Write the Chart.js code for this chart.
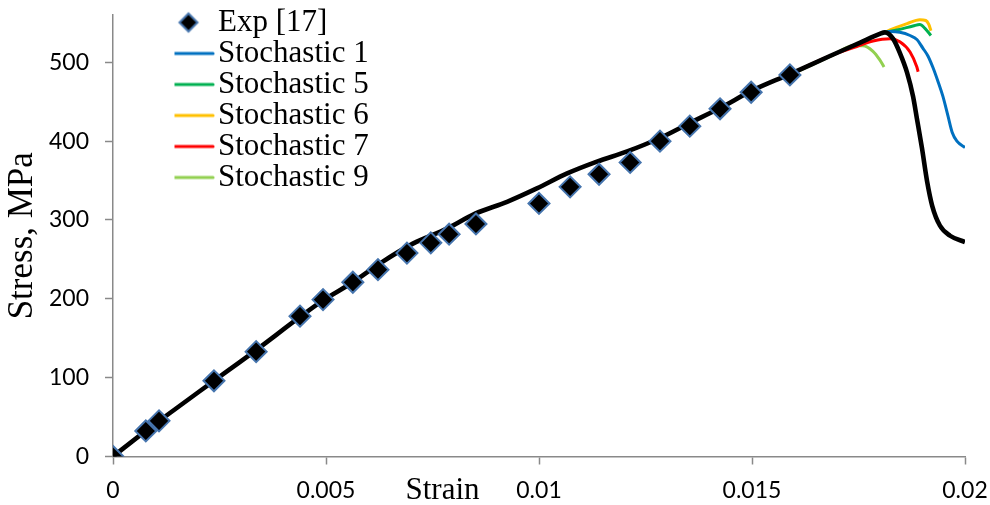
<!DOCTYPE html>
<html>
<head>
<meta charset="utf-8">
<script src="https://cdn.jsdelivr.net/npm/chart.js@4.4.1/dist/chart.umd.min.js"></script>
<style>
html,body{margin:0;padding:0;background:#fff;}
#wrap{width:990px;height:505px;position:relative;}
</style>
</head>
<body>
<div id="wrap"><canvas id="c"></canvas></div>
<script>
// ---------- data ----------
const expStrain = [0, 0.00077, 0.00108, 0.00237, 0.00336, 0.00439, 0.00493, 0.00563, 0.00622, 0.0069, 0.00746, 0.00789, 0.00852, 0.0100, 0.01073, 0.01141, 0.01214, 0.01284, 0.01354, 0.01425, 0.01498, 0.01589];
const expStress = [0, 32.4, 45.2, 96, 133, 178, 199, 221, 237, 258, 271, 282, 295, 321, 342, 358, 373, 400, 419, 441, 462, 484];

const meanStrain = [0, 0.00077, 0.00108, 0.00237, 0.00336, 0.00439, 0.00493, 0.00563, 0.00627, 0.00704, 0.00784, 0.0085, 0.00925, 0.00995, 0.01066, 0.01136, 0.01207, 0.01284, 0.01354, 0.01425, 0.015, 0.01589, 0.01683, 0.01754, 0.018, 0.01812, 0.01831, 0.01847, 0.01864, 0.01878, 0.01887, 0.01899, 0.01911, 0.01923, 0.01941, 0.01965, 0.02];
const meanStress = [0, 32.5, 45, 96, 135, 177, 198, 221, 245, 270, 289, 308, 323, 340, 359, 374, 387, 404, 423, 442, 464, 485, 508, 525, 536, 538, 530, 512, 487, 457, 429, 391, 349, 318, 293, 280, 272];

const s1Strain = [0.01589, 0.01683, 0.01754, 0.018, 0.01812, 0.01824, 0.01847, 0.01871, 0.01887, 0.01901, 0.01913, 0.01925, 0.01937, 0.01948, 0.0196, 0.0197, 0.01981, 0.02];
const s1Stress = [485, 508, 525, 536, 538, 539, 538, 534, 529, 518, 508, 493, 475, 457, 432, 411, 400, 392];

const s5Strain = [0.01589, 0.01683, 0.01754, 0.018, 0.01812, 0.0184, 0.01878, 0.01894, 0.01906, 0.0192];
const s5Stress = [485, 508, 525, 536, 538, 541, 546, 548, 543, 534];

const s6Strain = [0.01589, 0.01683, 0.01754, 0.018, 0.01812, 0.01824, 0.01864, 0.01894, 0.01908, 0.01915, 0.0192];
const s6Stress = [485, 508, 525, 536, 538, 541, 549, 554, 553, 548, 540];

const s7Strain = [0.01589, 0.01683, 0.01746, 0.01784, 0.01824, 0.01847, 0.01871, 0.01887, 0.0189];
const s7Stress = [485, 508, 520, 527, 530, 526, 513, 494, 488];

const s9Strain = [0.01589, 0.0169, 0.01737, 0.0176, 0.01784, 0.018, 0.0181];
const s9Stress = [484, 509, 521, 521, 514, 503, 494];

const seriesNames = ['Exp [17]', 'Stochastic 1', 'Stochastic 5', 'Stochastic 6', 'Stochastic 7', 'Stochastic 9', 'Stochastic'];
const xTicks = [0, 0.005, 0.01, 0.015, 0.02];
const xTickLabels = ['0', '0.005', '0.01', '0.015', '0.02'];
const yTicks = [0, 100, 200, 300, 400, 500];
const yTickLabels = ['0', '100', '200', '300', '400', '500'];
const xTitleText = 'Strain';
const yTitleText = 'Stress, MPa';

// ---------- styles ----------
const lineColors = ['#0070C0', '#00B050', '#FFC000', '#FF0000', '#92D050'];
const axisGray = '#898989';
const markerBorder = '#4675AE';
const serif = '"Liberation Serif", "Times New Roman", serif';

function pts(xs, ys) { return xs.map((x, i) => ({x: x, y: ys[i]})); }

function lineIcon(color) {
  const c = document.createElement('canvas');
  c.width = 53; c.height = 6;
  const g = c.getContext('2d');
  g.strokeStyle = color; g.lineWidth = 3.2; g.lineCap = 'round';
  g.beginPath(); g.moveTo(2, 3); g.lineTo(51, 3); g.stroke();
  return c;
}
function diamondIcon() {
  const c = document.createElement('canvas');
  c.width = 24; c.height = 24;
  const g = c.getContext('2d');
  g.beginPath(); g.moveTo(12, 3); g.lineTo(21, 12); g.lineTo(12, 21); g.lineTo(3, 12); g.closePath();
  g.fillStyle = '#000'; g.fill();
  g.strokeStyle = markerBorder; g.lineWidth = 2; g.stroke();
  return c;
}
const legendIcons = [diamondIcon()].concat(lineColors.map(lineIcon));

function lineDs(name, xs, ys, color, order, width) {
  return {
    label: name, data: pts(xs, ys), showLine: true, borderColor: color, backgroundColor: color,
    borderWidth: width, pointRadius: 0, pointHoverRadius: 0, fill: false,
    cubicInterpolationMode: 'monotone', tension: 0.4, order: order
  };
}

const datasets = [
  {
    label: seriesNames[0], data: pts(expStrain, expStress), showLine: false,
    pointStyle: 'rectRot', pointRadius: 10.5, pointHoverRadius: 10.5,
    backgroundColor: '#000', borderColor: markerBorder, pointBorderWidth: 2, order: 0
  },
  lineDs(seriesNames[1], s1Strain, s1Stress, lineColors[0], 2, 3),
  lineDs(seriesNames[2], s5Strain, s5Stress, lineColors[1], 2, 3),
  lineDs(seriesNames[3], s6Strain, s6Stress, lineColors[2], 2, 3),
  lineDs(seriesNames[4], s7Strain, s7Stress, lineColors[3], 2, 3),
  lineDs(seriesNames[5], s9Strain, s9Stress, lineColors[4], 2, 3),
  lineDs(seriesNames[6], meanStrain, meanStress, '#000', 1, 4.6)
];
const hiddenFromLegend = 6;

const legendPlacer = {
  id: 'legendPlacer',
  afterLayout(chart) {
    const lg = chart.legend; if (!lg) return;
    const w = lg.width, h = lg.height;
    lg.left = chart.chartArea.left + 61.5;
    lg.top = chart.chartArea.top - 8;
    lg.right = lg.left + w; lg.bottom = lg.top + h;
  }
};
const xTitlePlugin = {
  id: 'xTitlePlugin',
  afterDraw(chart) {
    const {ctx, chartArea} = chart;
    ctx.save();
    ctx.font = '31px ' + serif;
    ctx.fillStyle = '#000';
    ctx.textAlign = 'center';
    ctx.textBaseline = 'alphabetic';
    ctx.fillText(xTitleText, chartArea.left + 329.5, chartArea.bottom + 42.5);
    ctx.restore();
  }
};

new Chart(document.getElementById('c'), {
  type: 'scatter',
  data: {datasets: datasets},
  plugins: [legendPlacer, xTitlePlugin],
  options: {
    responsive: true, maintainAspectRatio: false, animation: false, devicePixelRatio: 1,
    layout: {padding: {top: 15, right: 25, bottom: 0, left: 0}},
    plugins: {
      tooltip: {enabled: false},
      title: {display: false},
      legend: {
        display: true, position: 'chartArea', align: 'start',
        labels: {
          usePointStyle: true, pointStyleWidth: 28, padding: 0,
          color: '#000', font: {family: serif, size: 31},
          generateLabels(chart) {
            const base = Chart.defaults.plugins.legend.labels.generateLabels(chart);
            return base.filter(it => it.datasetIndex !== hiddenFromLegend).map(it => {
              it.pointStyle = legendIcons[it.datasetIndex];
              return it;
            });
          }
        }
      }
    },
    scales: {
      x: {
        type: 'linear', min: 0, max: 0.02,
        afterBuildTicks: s => { s.ticks = xTicks.map(v => ({value: v})); },
        afterFit: s => { s.height = 48.5; s.paddingLeft = 0; s.paddingRight = 0; },
        ticks: {
          font: {family: 'Lato', size: 23}, color: '#000', padding: 12, maxRotation: 0,
          callback: v => xTickLabels[xTicks.indexOf(v)]
        },
        grid: {display: true, drawOnChartArea: false, drawTicks: true, tickLength: 8, tickColor: axisGray, tickWidth: 1.5},
        border: {display: true, color: axisGray, width: 1.5},
        title: {display: false}
      },
      y: {
        type: 'linear', min: 0, max: 560,
        afterBuildTicks: s => { s.ticks = yTicks.map(v => ({value: v})); },
        afterFit: s => { s.width = 113; s.paddingTop = 0; s.paddingBottom = 0; },
        ticks: {
          font: {family: 'Lato', size: 23}, color: '#000', padding: 16,
          callback: v => yTickLabels[yTicks.indexOf(v)]
        },
        grid: {display: true, drawOnChartArea: false, drawTicks: true, tickLength: 8, tickColor: axisGray, tickWidth: 1.5},
        border: {display: true, color: axisGray, width: 1.5},
        title: {display: true, text: yTitleText, color: '#000', font: {family: serif, size: 35}, padding: {top: 2, bottom: 0}}
      }
    }
  }
});
</script>
</body>
</html>
